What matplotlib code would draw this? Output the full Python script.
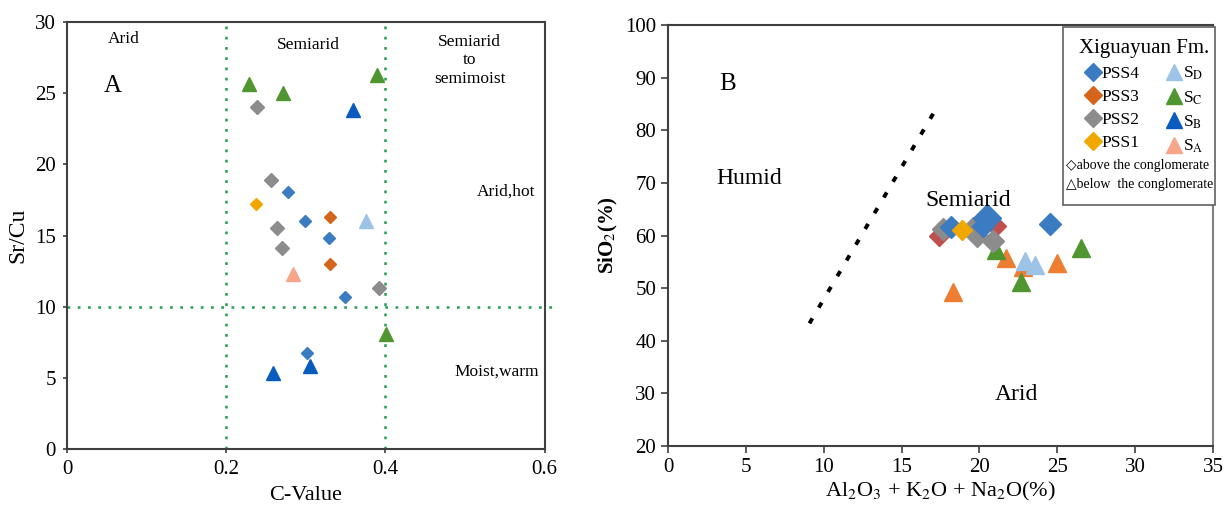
import numpy as np
import matplotlib
matplotlib.use('Agg')
import matplotlib.pyplot as plt
from matplotlib.lines import Line2D
from matplotlib.patches import Rectangle

plt.rcParams['font.family'] = ['Liberation Serif', 'DejaVu Serif']
plt.rcParams['mathtext.fontset'] = 'stix'

# ---- panel A : C-value vs Sr/Cu ----
a_pss4_x = [0.278, 0.299, 0.329, 0.349, 0.301]
a_pss4_y = [18.05, 16.0, 14.8, 10.7, 6.73]
a_pss3_x = [0.331, 0.331]
a_pss3_y = [16.3, 13.0]
a_pss2_x = [0.239, 0.256, 0.264, 0.270, 0.392]
a_pss2_y = [24.0, 18.9, 15.5, 14.1, 11.3]
a_pss1_x = [0.237]
a_pss1_y = [17.2]
a_sd_x = [0.375]
a_sd_y = [16.05]
a_sc_x = [0.229, 0.271, 0.390, 0.401]
a_sc_y = [25.65, 25.0, 26.3, 8.07]
a_sb_x = [0.359, 0.259, 0.305]
a_sb_y = [23.8, 5.36, 5.84]
a_sa_x = [0.284]
a_sa_y = [12.3]

# ---- panel B : Al2O3+K2O+Na2O vs SiO2 ----
b_pss4_x = [18.15, 20.2, 24.5]
b_pss4_y = [61.7, 61.9, 62.1]
b_pss4_big_x = [20.5]
b_pss4_big_y = [63.4]
b_pss3_x = [17.4, 21.05]
b_pss3_y = [60.0, 61.8]
b_pss2_x = [17.65, 19.6, 19.87, 20.9]
b_pss2_y = [61.3, 61.5, 60.0, 58.9]
b_pss1_x = [18.9]
b_pss1_y = [61.0]
b_sd_x = [22.95, 23.6]
b_sd_y = [55.1, 54.4]
b_sc_x = [21.05, 26.5, 22.7]
b_sc_y = [57.3, 57.6, 51.2]
b_sa_x = [21.7, 22.8, 25.0, 18.3]
b_sa_y = [55.7, 54.1, 54.7, 49.3]
boundary_x = [9.08, 17.4]
boundary_y = [43.3, 85.0]

c_pss4 = '#3A7BC2'
c_pss3 = '#D4661C'
c_pss3b = '#C0504D'
c_pss2 = '#8C8C8C'
c_pss1 = '#F0A800'
c_sd = '#9DC3E6'
c_sc = '#4F9630'
c_sb = '#0A5BBE'
c_sa = '#F8A68B'
c_sab = '#ED7D31'
green_line = '#22A050'
spine_c = '#404040'

fig = plt.figure(figsize=(12.24, 5.07), dpi=100)
ax1 = fig.add_axes([0.0547, 0.1144, 0.3903, 0.8422])
ax2 = fig.add_axes([0.5458, 0.1203, 0.4452, 0.8304])

# panel A
ax1.axvline(0.2, color=green_line, lw=1.8, dashes=(1.1, 3.0))
ax1.axvline(0.4, color=green_line, lw=1.8, dashes=(1.1, 3.0))
ax1.plot([0, 0.613], [10, 10], color=green_line, lw=1.8, dashes=(1.1, 3.0), clip_on=False)

tri_a = 9.5
dia_a = 6.5
ax1.plot(a_sc_x, a_sc_y, '^', color=c_sc, ms=tri_a, ls='none')
ax1.plot(a_sb_x, a_sb_y, '^', color=c_sb, ms=tri_a, ls='none')
ax1.plot(a_sd_x, a_sd_y, '^', color=c_sd, ms=tri_a, ls='none')
ax1.plot(a_sa_x, a_sa_y, '^', color=c_sa, ms=tri_a, ls='none')
ax1.plot(a_pss4_x, a_pss4_y, 'D', color=c_pss4, ms=dia_a, ls='none')
ax1.plot(a_pss3_x, a_pss3_y, 'D', color=c_pss3, ms=dia_a, ls='none')
ax1.plot(a_pss2_x, a_pss2_y, 'D', color=c_pss2, ms=dia_a + 0.5, ls='none')
ax1.plot(a_pss1_x, a_pss1_y, 'D', color=c_pss1, ms=dia_a, ls='none')

ax1.set_xlim(0, 0.6)
ax1.set_ylim(0, 30)
ax1.set_xticks([0, 0.2, 0.4, 0.6])
ax1.set_xticklabels(['0', '0.2', '0.4', '0.6'])
ax1.set_yticks(range(0, 31, 5))
ax1.tick_params(labelsize=15, length=3, width=1.2, color=spine_c, direction='out', pad=5)
for s in ax1.spines.values():
    s.set_color(spine_c)
    s.set_linewidth(1.5)
ax1.set_xlabel('C-Value', fontsize=16, labelpad=5)
ax1.set_ylabel('Sr/Cu', fontsize=17, labelpad=5)

ax1.text(0.071, 28.8, 'Arid', fontsize=12.5, ha='center', va='center')
ax1.text(0.303, 28.35, 'Semiarid', fontsize=12.5, ha='center', va='center')
ax1.text(0.506, 27.3, 'Semiarid\nto\nsemimoist', fontsize=12.5, ha='center', va='center',
         linespacing=1.2)
ax1.text(0.058, 25.5, 'A', fontsize=18, ha='center', va='center')
ax1.text(0.551, 18.1, 'Arid,hot', fontsize=12.5, ha='center', va='center')
ax1.text(0.54, 5.4, 'Moist,warm', fontsize=12.5, ha='center', va='center')

# panel B
ax2.plot(boundary_x, boundary_y, color='black', lw=2.8, dashes=(1.5, 3.2))

tri_b = 13
dia_b = 11
ax2.plot(b_sa_x, b_sa_y, '^', color=c_sab, ms=tri_b, ls='none')
ax2.plot(b_sd_x, b_sd_y, '^', color=c_sd, ms=tri_b, ls='none')
ax2.plot(b_sc_x, b_sc_y, '^', color=c_sc, ms=tri_b, ls='none')
ax2.plot(b_pss3_x, b_pss3_y, 'D', color=c_pss3b, ms=dia_b - 1, ls='none')
ax2.plot(b_pss2_x, b_pss2_y, 'D', color=c_pss2, ms=dia_b, ls='none')
ax2.plot(b_pss4_x, b_pss4_y, 'D', color=c_pss4, ms=dia_b, ls='none')
ax2.plot(b_pss4_big_x, b_pss4_big_y, 'D', color=c_pss4, ms=dia_b + 3, ls='none')
ax2.plot(b_pss1_x, b_pss1_y, 'D', color=c_pss1, ms=dia_b - 1, ls='none')

ax2.set_xlim(0, 35)
ax2.set_ylim(20, 100)
ax2.set_xticks(range(0, 36, 5))
ax2.set_yticks(range(20, 101, 10))
ax2.tick_params(labelsize=15, length=5, width=1.2, color=spine_c, direction='out')
for name, s in ax2.spines.items():
    s.set_color(spine_c)
    s.set_linewidth(1.5)
ax2.spines['right'].set_color('#808080')
ax2.set_xlabel(r'Al$_2$O$_3$ + K$_2$O + Na$_2$O(%)', fontsize=16, labelpad=2)
ax2.set_ylabel(r'SiO$_2$(%)', fontsize=15, fontweight='bold', labelpad=4)

ax2.text(3.8, 88.7, 'B', fontsize=18, ha='center', va='center')
ax2.text(3.1, 70.9, 'Humid', fontsize=17, ha='left', va='center')
ax2.text(16.5, 66.6, 'Semiarid', fontsize=17, ha='left', va='center')
ax2.text(21.0, 29.7, 'Arid', fontsize=17, ha='left', va='center')

# legend box
ax2.add_patch(Rectangle((0.725, 0.572), 0.279, 0.423, transform=ax2.transAxes,
                        facecolor='white', edgecolor='#606060', lw=1.2, clip_on=False, zorder=5))
handles = [
    Line2D([], [], marker='D', color=c_pss4, ls='none', ms=9),
    Line2D([], [], marker='D', color=c_pss3, ls='none', ms=9),
    Line2D([], [], marker='D', color=c_pss2, ls='none', ms=9),
    Line2D([], [], marker='D', color=c_pss1, ls='none', ms=9),
    Line2D([], [], marker='^', color=c_sd, ls='none', ms=12),
    Line2D([], [], marker='^', color=c_sc, ls='none', ms=12),
    Line2D([], [], marker='^', color=c_sb, ls='none', ms=12),
    Line2D([], [], marker='^', color=c_sa, ls='none', ms=12),
]
labels = ['PSS4', 'PSS3', 'PSS2', 'PSS1',
          r'S$_\mathrm{D}$', r'S$_\mathrm{C}$', r'S$_\mathrm{B}$', r'S$_\mathrm{A}$']
leg = ax2.legend(handles, labels, ncol=2, title='Xiguayuan Fm.', frameon=False,
                 loc='upper left', bbox_to_anchor=(0.728, 1.0), fontsize=12.5,
                 title_fontproperties={'size': 15}, handlelength=1.0, handletextpad=0.0,
                 columnspacing=1.5, labelspacing=0.4, borderpad=0.3)
leg.set_zorder(6)
ax2.text(0.730, 0.667, '\u25c7above the conglomerate', transform=ax2.transAxes,
         fontsize=10, ha='left', va='center', zorder=7, family=['Liberation Serif', 'DejaVu Sans'])
ax2.text(0.730, 0.620, '\u25b3below  the conglomerate', transform=ax2.transAxes,
         fontsize=10, ha='left', va='center', zorder=7, family=['Liberation Serif', 'DejaVu Sans'])

fig.savefig('out.png', dpi=100)
